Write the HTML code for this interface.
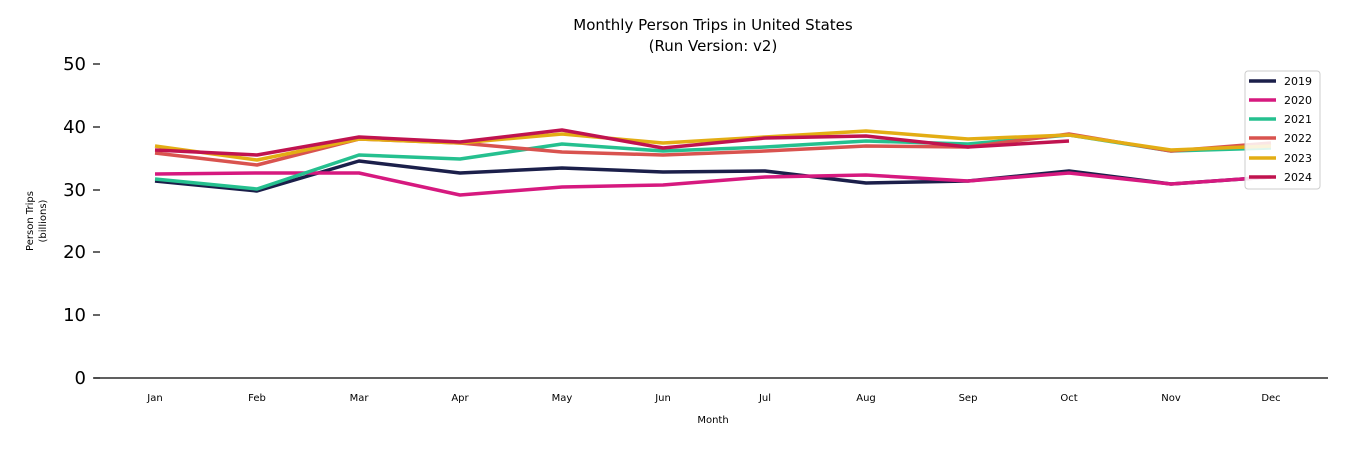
<!DOCTYPE html><html><head><style>body{margin:0;background:#fff}svg{font-family:"DejaVu Sans","Liberation Sans",sans-serif}</style></head><body>
<svg width="1350" height="450" xmlns="http://www.w3.org/2000/svg">
<text x="713" y="30" font-size="15" text-anchor="middle">Monthly Person Trips in United States</text>
<text x="713" y="51" font-size="15" text-anchor="middle">(Run Version: v2)</text>
<g font-size="18" text-anchor="end">
<text x="86" y="384">0</text><text x="86" y="321">10</text><text x="86" y="258">20</text><text x="86" y="196">30</text><text x="86" y="133">40</text><text x="86" y="70">50</text></g>
<g stroke="#000" stroke-width="1.2"><line x1="93" y1="378" x2="100" y2="378"/><line x1="93" y1="315" x2="100" y2="315"/><line x1="93" y1="252" x2="100" y2="252"/><line x1="93" y1="190" x2="100" y2="190"/><line x1="93" y1="127" x2="100" y2="127"/><line x1="93" y1="64" x2="100" y2="64"/>
<line x1="94" y1="378" x2="1328" y2="378"/></g>
<text transform="translate(33,221) rotate(-90)" font-size="10" text-anchor="middle">Person Trips</text>
<text transform="translate(46,221) rotate(-90)" font-size="10" text-anchor="middle">(billions)</text>
<g font-size="10" text-anchor="middle"><text x="155" y="401">Jan</text><text x="257" y="401">Feb</text><text x="359" y="401">Mar</text><text x="460" y="401">Apr</text><text x="562" y="401">May</text><text x="663" y="401">Jun</text><text x="765" y="401">Jul</text><text x="866" y="401">Aug</text><text x="968" y="401">Sep</text><text x="1069" y="401">Oct</text><text x="1171" y="401">Nov</text><text x="1271" y="401">Dec</text>
<text x="713" y="423">Month</text></g>
<g fill="none" stroke-width="3.5" stroke-linejoin="round">
<polyline stroke="#1b1f4a" points="155,181 257,191 359,161 460,173 562,168 663,172 765,171 866,183 968,181 1069,171 1171,184 1271,177"/>
<polyline stroke="#d6197f" points="155,174 257,173 359,173 460,195 562,187 663,185 765,177 866,175 968,181 1069,173 1171,184 1271,177"/>
<polyline stroke="#25c08f" points="155,179 257,189 359,155 460,159 562,144 663,151 765,147 866,141 968,144 1069,135 1171,151 1271,148"/>
<polyline stroke="#d9534f" points="155,153 257,165 359,139 460,143 562,152 663,155 765,151 866,146 968,147 1069,134 1171,151 1271,143"/>
<polyline stroke="#e3ad14" points="155,146 257,160 359,139 460,143 562,134 663,143 765,137 866,131 968,139 1069,135 1171,150 1271,146"/>
<polyline stroke="#c0134f" points="155,150 257,155 359,137 460,142 562,130 663,148 765,138 866,136 968,147 1069,141"/>
</g>
<rect x="1245" y="71" width="75" height="118" rx="3" fill="#fff" fill-opacity="0.85" stroke="#ccc"/>
<g stroke-width="3.5"><line x1="1249" y1="81" x2="1276" y2="81" stroke="#1b1f4a"/><line x1="1249" y1="100" x2="1276" y2="100" stroke="#d6197f"/><line x1="1249" y1="119" x2="1276" y2="119" stroke="#25c08f"/><line x1="1249" y1="138" x2="1276" y2="138" stroke="#d9534f"/><line x1="1249" y1="158" x2="1276" y2="158" stroke="#e3ad14"/><line x1="1249" y1="177" x2="1276" y2="177" stroke="#c0134f"/></g>
<g font-size="11"><text x="1284" y="85">2019</text><text x="1284" y="104">2020</text><text x="1284" y="123">2021</text><text x="1284" y="142">2022</text><text x="1284" y="162">2023</text><text x="1284" y="181">2024</text></g>
</svg></body></html>
